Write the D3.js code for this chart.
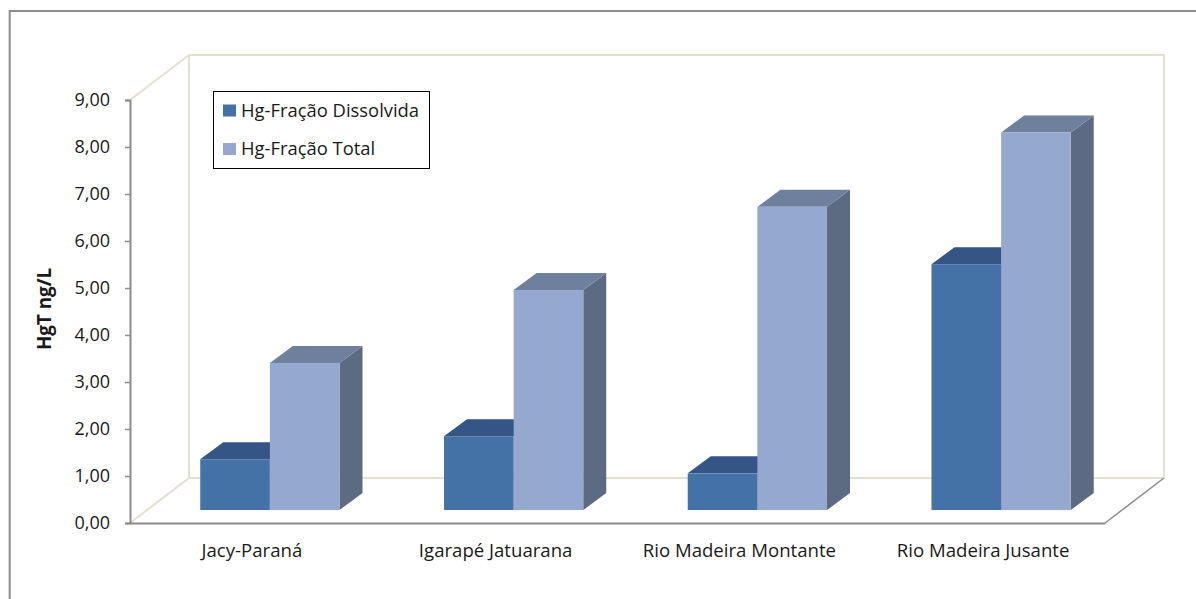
<!DOCTYPE html>
<html>
<head>
<meta charset="utf-8">
<script src="https://cdn.jsdelivr.net/npm/d3@7/dist/d3.min.js"></script>
<style>
  html, body { margin: 0; padding: 0; background: #fff; }
  svg { display: block; }
  text { font-family: "Open Sans", "Noto Sans", sans-serif; fill: #1a1a1a; }
</style>
</head>
<body>
<svg id="chart" width="1196" height="599"></svg>
<script>
// Total mercury per sampling site
const categories = ["Jacy-Paraná", "Igarapé Jatuarana", "Rio Madeira Montante", "Rio Madeira Jusante"];
const dissolvida = [1.08, 1.57, 0.78, 5.23];
const total = [3.13, 4.68, 6.45, 8.03];
const seriesNames = ["Hg-Fração Dissolvida", "Hg-Fração Total"];
const tickValues = [0, 1, 2, 3, 4, 5, 6, 7, 8, 9];

const palette = [
  { front: "#4472a6", top: "#345586", side: "#33527c" },
  { front: "#95a9d0", top: "#6f7f9e", side: "#5d6b82" }
];

const svg = d3.select("#chart");
const axisGrey = "#8c8c8c";
const wallColor = "#e4e1d0";

// Oblique projection: the plot box recedes up and to the right
const plotLeft = 130, plotRight = 1105, plotBottom = 523, plotTop = 100;
const wallDx = 59, wallDy = 45;
const barInsetX = 18, barInsetY = 13;
const barDx = 23, barDy = 17;

const y = d3.scaleLinear().domain([0, 9]).range([plotBottom, plotTop]);
const x0 = d3.scaleBand().domain(categories).range([plotLeft, plotRight]);
const x1 = d3.scaleBand().domain([0, 1]).range([0, x0.bandwidth()]).paddingOuter(0.75).paddingInner(0);

// Frame around the chart area
svg.append("path")
  .attr("d", "M9.7,599V11H1196")
  .attr("fill", "none").attr("stroke", axisGrey).attr("stroke-width", 2);

// Back wall and side edges
const wall = svg.append("g").attr("fill", "none").attr("stroke", wallColor).attr("stroke-width", 2);
wall.append("rect")
  .attr("x", plotLeft + wallDx).attr("y", plotTop - wallDy)
  .attr("width", plotRight - plotLeft).attr("height", plotBottom - plotTop);
wall.append("path").attr("d", d3.line()([[plotLeft, plotTop], [plotLeft + wallDx, plotTop - wallDy]]));
wall.append("path").attr("d", d3.line()([[plotLeft, plotBottom], [plotLeft + wallDx, plotBottom - wallDy]]));

// Floor edge on the right
svg.append("path")
  .attr("d", d3.line()([[plotRight, plotBottom], [plotRight + wallDx, plotBottom - wallDy]]))
  .attr("fill", "none").attr("stroke", axisGrey).attr("stroke-width", 1.5);

// Prism bars
const series = [dissolvida, total];
const poly = pts => d3.line()(pts) + "Z";
categories.forEach((cat, i) => {
  series.forEach((vals, s) => {
    const h = plotBottom - y(vals[i]);
    const xa = x0(cat) + x1(s) + barInsetX;
    const xb = xa + x1.bandwidth();
    const yb = plotBottom - barInsetY;
    const yt = yb - h;
    const g = svg.append("g");
    g.append("path").attr("fill", palette[s].side)
      .attr("d", poly([[xb, yt], [xb + barDx, yt - barDy], [xb + barDx, yb - barDy], [xb, yb]]));
    g.append("path").attr("fill", palette[s].top)
      .attr("d", poly([[xa, yt], [xa + barDx, yt - barDy], [xb + barDx, yt - barDy], [xb, yt]]));
    g.append("rect").attr("fill", palette[s].front)
      .attr("x", xa).attr("y", yt).attr("width", xb - xa).attr("height", h);
  });
});

// Value axis
const yAxis = d3.axisLeft(y)
  .tickValues(tickValues)
  .tickFormat(d => d3.format(".2f")(d).replace(".", ","))
  .tickSize(5).tickPadding(15);
const yG = svg.append("g").attr("transform", `translate(${plotLeft},0)`).call(yAxis);
yG.select(".domain").attr("stroke", axisGrey).attr("stroke-width", 2);
yG.selectAll(".tick line").attr("stroke", axisGrey).attr("stroke-width", 1.5);
yG.selectAll(".tick text").attr("font-size", 18).style("font-family", '"Open Sans", sans-serif').attr("fill", "#1a1a1a");

// Category axis
const xAxis = d3.axisBottom(x0).tickSize(0).tickPadding(20.5);
const xG = svg.append("g").attr("transform", `translate(0,${plotBottom})`).call(xAxis);
xG.select(".domain").attr("stroke", axisGrey).attr("stroke-width", 2);
xG.selectAll(".tick text").attr("font-size", 18.6).style("font-family", '"Open Sans", sans-serif').attr("fill", "#1a1a1a");

// Axis title
svg.append("text")
  .attr("transform", "translate(51,309) rotate(-90)")
  .attr("text-anchor", "middle")
  .attr("font-size", 18.8).attr("font-weight", 700)
  .text("HgT ng/L");

// Legend
const legend = svg.append("g");
legend.append("rect")
  .attr("x", 213.5).attr("y", 91.5).attr("width", 216).attr("height", 77)
  .attr("fill", "#fff").attr("stroke", "#000").attr("stroke-width", 1);
seriesNames.forEach((name, s) => {
  const cy = 110.5 + s * 38.5;
  legend.append("rect")
    .attr("x", 223).attr("y", cy - 6).attr("width", 13).attr("height", 12)
    .attr("fill", palette[s].front);
  legend.append("text")
    .attr("x", 241).attr("y", cy + 6)
    .attr("font-size", 18.4).text(name);
});
</script>
</body>
</html>
